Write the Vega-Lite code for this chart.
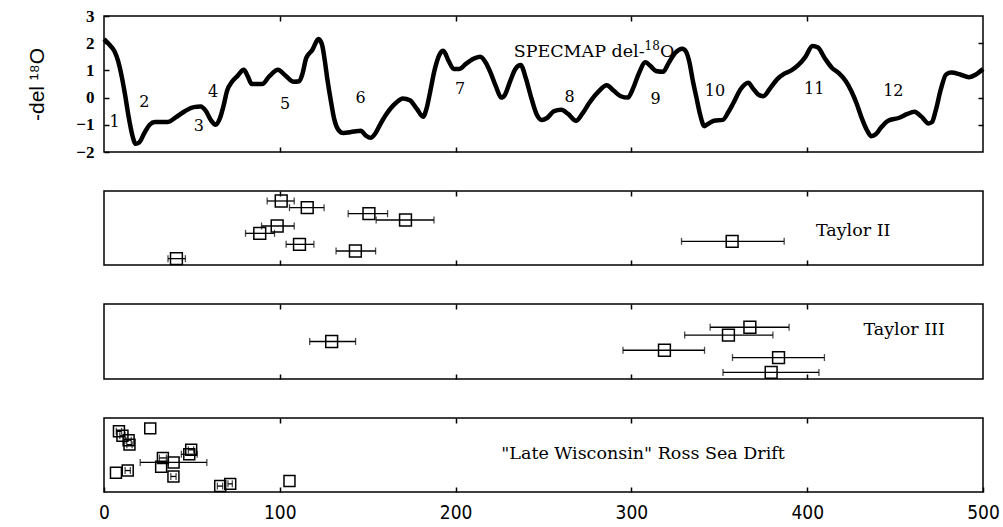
{
  "$schema": "https://vega.github.io/schema/vega-lite/v6.json",
  "background": "white",
  "padding": {"left": 25, "top": 6, "right": 5, "bottom": 5},
  "spacing": 39,
  "bounds": "flush",
  "config": {
    "font": "DejaVu Serif",
    "view": {"stroke": "black", "strokeWidth": 1.5},
    "axis": {
      "domain": false,
      "grid": false,
      "tickColor": "black",
      "tickWidth": 1.5,
      "tickSize": -5,
      "labelColor": "black",
      "titleColor": "black"
    },
    "text": {"color": "black", "font": "DejaVu Serif"}
  },
  "datasets": {
    "specmap": [
      {"age": 0, "d18o": 2.15}, {"age": 3, "d18o": 1.95}, {"age": 6, "d18o": 1.7}, {"age": 8, "d18o": 1.35},
      {"age": 10, "d18o": 0.8}, {"age": 12, "d18o": 0.1}, {"age": 14, "d18o": -0.7}, {"age": 16, "d18o": -1.35},
      {"age": 18, "d18o": -1.7}, {"age": 20, "d18o": -1.65}, {"age": 23, "d18o": -1.3}, {"age": 26, "d18o": -1.0},
      {"age": 29, "d18o": -0.9}, {"age": 36, "d18o": -0.9}, {"age": 41, "d18o": -0.72}, {"age": 46, "d18o": -0.5},
      {"age": 51, "d18o": -0.35}, {"age": 55, "d18o": -0.33}, {"age": 58, "d18o": -0.5}, {"age": 61, "d18o": -0.85},
      {"age": 63.5, "d18o": -1.0}, {"age": 66, "d18o": -0.75}, {"age": 68, "d18o": -0.3}, {"age": 70, "d18o": 0.25},
      {"age": 73, "d18o": 0.6}, {"age": 76, "d18o": 0.8}, {"age": 79.5, "d18o": 1.02}, {"age": 82, "d18o": 0.75},
      {"age": 84, "d18o": 0.5}, {"age": 90, "d18o": 0.5}, {"age": 94, "d18o": 0.78}, {"age": 99, "d18o": 1.02},
      {"age": 103, "d18o": 0.82}, {"age": 108, "d18o": 0.58}, {"age": 111, "d18o": 0.6}, {"age": 113, "d18o": 0.9},
      {"age": 115, "d18o": 1.45}, {"age": 118.5, "d18o": 1.75}, {"age": 122, "d18o": 2.15}, {"age": 124, "d18o": 1.95},
      {"age": 125.5, "d18o": 1.4}, {"age": 127, "d18o": 0.7}, {"age": 129, "d18o": -0.1}, {"age": 131, "d18o": -0.8},
      {"age": 133.5, "d18o": -1.2}, {"age": 136, "d18o": -1.3}, {"age": 142, "d18o": -1.25}, {"age": 146, "d18o": -1.22},
      {"age": 149, "d18o": -1.4}, {"age": 151.5, "d18o": -1.48}, {"age": 154.5, "d18o": -1.3}, {"age": 157, "d18o": -1.0},
      {"age": 160, "d18o": -0.67}, {"age": 163, "d18o": -0.4}, {"age": 166, "d18o": -0.2}, {"age": 170, "d18o": -0.03},
      {"age": 174, "d18o": -0.1}, {"age": 178, "d18o": -0.42}, {"age": 181.5, "d18o": -0.7}, {"age": 183.5, "d18o": -0.4},
      {"age": 185.5, "d18o": 0.2}, {"age": 188, "d18o": 1.0}, {"age": 191, "d18o": 1.6}, {"age": 193, "d18o": 1.72},
      {"age": 196, "d18o": 1.35}, {"age": 199, "d18o": 1.05}, {"age": 202, "d18o": 1.05}, {"age": 206, "d18o": 1.25},
      {"age": 211, "d18o": 1.45}, {"age": 214, "d18o": 1.5}, {"age": 217, "d18o": 1.3}, {"age": 220, "d18o": 0.9},
      {"age": 223, "d18o": 0.4}, {"age": 226, "d18o": 0.0}, {"age": 228, "d18o": 0.1}, {"age": 231, "d18o": 0.6},
      {"age": 234, "d18o": 1.05}, {"age": 237, "d18o": 1.2}, {"age": 240, "d18o": 0.7}, {"age": 243, "d18o": 0.0},
      {"age": 246, "d18o": -0.6}, {"age": 249, "d18o": -0.82}, {"age": 252, "d18o": -0.75}, {"age": 256, "d18o": -0.5},
      {"age": 260, "d18o": -0.45}, {"age": 264, "d18o": -0.6}, {"age": 268.5, "d18o": -0.85}, {"age": 272, "d18o": -0.6},
      {"age": 276, "d18o": -0.2}, {"age": 281, "d18o": 0.2}, {"age": 286, "d18o": 0.45}, {"age": 290, "d18o": 0.25},
      {"age": 294, "d18o": 0.05}, {"age": 298, "d18o": 0.0}, {"age": 301, "d18o": 0.35}, {"age": 304, "d18o": 0.85},
      {"age": 308, "d18o": 1.3}, {"age": 311, "d18o": 1.15}, {"age": 314, "d18o": 0.98}, {"age": 318, "d18o": 0.95},
      {"age": 321, "d18o": 1.25}, {"age": 325, "d18o": 1.65}, {"age": 329, "d18o": 1.8}, {"age": 331, "d18o": 1.7},
      {"age": 333, "d18o": 1.3}, {"age": 335, "d18o": 0.6}, {"age": 337, "d18o": 0.0}, {"age": 339, "d18o": -0.6},
      {"age": 341.5, "d18o": -1.05}, {"age": 344, "d18o": -0.95}, {"age": 347, "d18o": -0.85}, {"age": 352, "d18o": -0.82},
      {"age": 355, "d18o": -0.55}, {"age": 358, "d18o": -0.2}, {"age": 362, "d18o": 0.3}, {"age": 366.5, "d18o": 0.55},
      {"age": 369, "d18o": 0.35}, {"age": 372, "d18o": 0.12}, {"age": 375, "d18o": 0.05}, {"age": 379, "d18o": 0.35},
      {"age": 383, "d18o": 0.68}, {"age": 387, "d18o": 0.88}, {"age": 391, "d18o": 1.0}, {"age": 395, "d18o": 1.2},
      {"age": 399, "d18o": 1.5}, {"age": 403, "d18o": 1.9}, {"age": 406, "d18o": 1.85}, {"age": 410, "d18o": 1.45},
      {"age": 414, "d18o": 1.1}, {"age": 418, "d18o": 0.9}, {"age": 422, "d18o": 0.6}, {"age": 425, "d18o": 0.25},
      {"age": 428, "d18o": -0.2}, {"age": 431, "d18o": -0.75}, {"age": 434, "d18o": -1.2}, {"age": 436.5, "d18o": -1.42},
      {"age": 439, "d18o": -1.35}, {"age": 442, "d18o": -1.1}, {"age": 446, "d18o": -0.85}, {"age": 452, "d18o": -0.75},
      {"age": 457, "d18o": -0.6}, {"age": 461, "d18o": -0.52}, {"age": 465, "d18o": -0.7}, {"age": 469, "d18o": -0.95},
      {"age": 471, "d18o": -0.9}, {"age": 473, "d18o": -0.5}, {"age": 476, "d18o": 0.3}, {"age": 479, "d18o": 0.85},
      {"age": 482, "d18o": 0.92}, {"age": 487, "d18o": 0.85}, {"age": 492, "d18o": 0.75}, {"age": 496, "d18o": 0.85},
      {"age": 500, "d18o": 1.05}
    ],
    "stages": [
      {"age": 6, "d18o": -0.9, "label": "1"},
      {"age": 23, "d18o": -0.18, "label": "2"},
      {"age": 54, "d18o": -1.04, "label": "3"},
      {"age": 62, "d18o": 0.2, "label": "4"},
      {"age": 103, "d18o": -0.24, "label": "5"},
      {"age": 146, "d18o": 0.0, "label": "6"},
      {"age": 202.6, "d18o": 0.31, "label": "7"},
      {"age": 264.8, "d18o": 0.01, "label": "8"},
      {"age": 313.8, "d18o": -0.05, "label": "9"},
      {"age": 347.5, "d18o": 0.26, "label": "10"},
      {"age": 404, "d18o": 0.32, "label": "11"},
      {"age": 449, "d18o": 0.26, "label": "12"}
    ],
    "taylor2": [
      {"age": 100.8, "lo": 92.8, "hi": 108.2, "row": 0.865},
      {"age": 115.6, "lo": 105.5, "hi": 125.2, "row": 0.775},
      {"age": 150.7, "lo": 138.9, "hi": 161.3, "row": 0.694},
      {"age": 171.5, "lo": 154.8, "hi": 187.7, "row": 0.608},
      {"age": 98.5, "lo": 89.6, "hi": 108.2, "row": 0.527},
      {"age": 88.6, "lo": 80.5, "hi": 97.0, "row": 0.428},
      {"age": 111.2, "lo": 103.6, "hi": 119.4, "row": 0.279},
      {"age": 143.0, "lo": 132.0, "hi": 154.5, "row": 0.189},
      {"age": 41.2, "lo": 36.4, "hi": 46.3, "row": 0.086},
      {"age": 357.3, "lo": 328.5, "hi": 386.9, "row": 0.32}
    ],
    "taylor3": [
      {"age": 129.5, "lo": 117.0, "hi": 143.1, "row": 0.5},
      {"age": 367.4, "lo": 344.8, "hi": 389.7, "row": 0.69},
      {"age": 355.2, "lo": 330.3, "hi": 380.5, "row": 0.586},
      {"age": 318.8, "lo": 295.2, "hi": 341.6, "row": 0.383},
      {"age": 383.7, "lo": 357.5, "hi": 409.8, "row": 0.286},
      {"age": 379.5, "lo": 352.1, "hi": 406.7, "row": 0.088}
    ],
    "ross": [
      {"age": 8.5, "lo": 7.0, "hi": 10.0, "row": 0.82},
      {"age": 10.5, "lo": 9.0, "hi": 12.0, "row": 0.76},
      {"age": 14.0, "lo": 12.5, "hi": 15.5, "row": 0.7},
      {"age": 14.5, "lo": 13.0, "hi": 16.0, "row": 0.64},
      {"age": 26.3, "lo": null, "hi": null, "row": 0.86},
      {"age": 6.8, "lo": null, "hi": null, "row": 0.26},
      {"age": 13.5, "lo": 12.0, "hi": 15.0, "row": 0.29},
      {"age": 33.5, "lo": 31.5, "hi": 35.5, "row": 0.46},
      {"age": 32.5, "lo": null, "hi": null, "row": 0.34},
      {"age": 39.6, "lo": 20.6, "hi": 58.5, "row": 0.4},
      {"age": 39.5, "lo": 38.0, "hi": 41.0, "row": 0.21},
      {"age": 49.6, "lo": 48.0, "hi": 51.0, "row": 0.57},
      {"age": 48.5, "lo": 44.0, "hi": 53.0, "row": 0.51},
      {"age": 66.1, "lo": 64.5, "hi": 67.5, "row": 0.08},
      {"age": 71.8, "lo": 70.5, "hi": 73.0, "row": 0.11},
      {"age": 105.5, "lo": null, "hi": null, "row": 0.15}
    ]
  },
  "vconcat": [
    {
      "width": 879,
      "height": 136,
      "layer": [
        {
          "data": {"name": "specmap"},
          "mark": {"type": "line", "interpolate": "monotone", "color": "black", "strokeWidth": 4.5, "strokeJoin": "round"},
          "encoding": {
            "x": {"field": "age", "type": "quantitative", "scale": {"domain": [0, 500], "nice": false},
                  "axis": {"orient": "bottom", "values": [100, 200, 300, 400], "labels": false, "title": null}},
            "y": {"field": "d18o", "type": "quantitative", "scale": {"domain": [-2, 3], "nice": false, "zero": false},
                  "axis": {"orient": "left", "values": [-2, -1, 0, 1, 2, 3], "labelFont": "Liberation Serif", "labelFontSize": 17,
                           "labelFontWeight": "bold", "labelPadding": 15, "title": "-del ¹⁸O", "titleFont": "Liberation Sans",
                           "titleFontSize": 21, "titleFontWeight": "normal", "titleX": -67, "titleBaseline": "middle"}}
          }
        },
        {
          "data": {"name": "stages"},
          "mark": {"type": "text", "fontSize": 16},
          "encoding": {
            "x": {"field": "age", "type": "quantitative",
                  "axis": {"orient": "top", "values": [100, 200, 300, 400], "labels": false, "title": null}},
            "y": {"field": "d18o", "type": "quantitative",
                  "axis": {"orient": "right", "values": [-1, 0, 1, 2], "labels": false, "title": null}},
            "text": {"field": "label"}
          }
        },
        {
          "data": {"values": [{"age": 307.5, "d18o": 1.48, "label": "SPECMAP del-"}]},
          "mark": {"type": "text", "fontSize": 17.5, "align": "right", "baseline": "alphabetic"},
          "encoding": {
            "x": {"field": "age", "type": "quantitative", "axis": null},
            "y": {"field": "d18o", "type": "quantitative", "axis": null},
            "text": {"field": "label"}
          }
        },
        {
          "data": {"values": [{"age": 307.5, "d18o": 1.48, "label": "18"}]},
          "mark": {"type": "text", "fontSize": 12, "align": "left", "baseline": "alphabetic", "dy": -7},
          "encoding": {
            "x": {"field": "age", "type": "quantitative", "axis": null},
            "y": {"field": "d18o", "type": "quantitative", "axis": null},
            "text": {"field": "label"}
          }
        },
        {
          "data": {"values": [{"age": 316.2, "d18o": 1.48, "label": "O"}]},
          "mark": {"type": "text", "fontSize": 17.5, "align": "left", "baseline": "alphabetic"},
          "encoding": {
            "x": {"field": "age", "type": "quantitative", "axis": null},
            "y": {"field": "d18o", "type": "quantitative", "axis": null},
            "text": {"field": "label"}
          }
        }
      ],
      "resolve": {"axis": {"x": "independent", "y": "independent"}}
    },
    {
      "width": 879,
      "height": 74,
      "data": {"name": "taylor2"},
      "layer": [
        {
          "mark": {"type": "rule", "color": "black", "strokeWidth": 1.3},
          "encoding": {
            "x": {"field": "lo", "type": "quantitative", "scale": {"domain": [0, 500], "nice": false},
                  "axis": {"orient": "bottom", "values": [100, 200, 300, 400], "labels": false, "title": null}},
            "x2": {"field": "hi"},
            "y": {"field": "row", "type": "quantitative", "scale": {"domain": [0, 1], "nice": false}, "axis": null}
          }
        },
        {
          "mark": {"type": "tick", "orient": "vertical", "color": "black", "size": 7, "thickness": 1.3},
          "encoding": {
            "x": {"field": "lo", "type": "quantitative",
                  "axis": {"orient": "top", "values": [100, 200, 300, 400], "labels": false, "title": null}},
            "y": {"field": "row", "type": "quantitative", "axis": null}
          }
        },
        {
          "mark": {"type": "tick", "orient": "vertical", "color": "black", "size": 7, "thickness": 1.3},
          "encoding": {
            "x": {"field": "hi", "type": "quantitative", "axis": null},
            "y": {"field": "row", "type": "quantitative", "axis": null}
          }
        },
        {
          "mark": {"type": "point", "shape": "square", "filled": false, "color": "black", "size": 140, "strokeWidth": 1.5, "opacity": 1},
          "encoding": {
            "x": {"field": "age", "type": "quantitative", "axis": null},
            "y": {"field": "row", "type": "quantitative", "axis": null}
          }
        },
        {
          "data": {"values": [{"age": 405, "row": 0.46, "label": "Taylor  II"}]},
          "mark": {"type": "text", "fontSize": 17.5, "align": "left", "baseline": "middle"},
          "encoding": {
            "x": {"field": "age", "type": "quantitative", "axis": null},
            "y": {"field": "row", "type": "quantitative", "axis": null},
            "text": {"field": "label"}
          }
        }
      ],
      "resolve": {"axis": {"x": "independent", "y": "independent"}}
    },
    {
      "width": 879,
      "height": 75,
      "data": {"name": "taylor3"},
      "layer": [
        {
          "mark": {"type": "rule", "color": "black", "strokeWidth": 1.3},
          "encoding": {
            "x": {"field": "lo", "type": "quantitative", "scale": {"domain": [0, 500], "nice": false},
                  "axis": {"orient": "bottom", "values": [100, 200, 300, 400], "labels": false, "title": null}},
            "x2": {"field": "hi"},
            "y": {"field": "row", "type": "quantitative", "scale": {"domain": [0, 1], "nice": false}, "axis": null}
          }
        },
        {
          "mark": {"type": "tick", "orient": "vertical", "color": "black", "size": 7, "thickness": 1.3},
          "encoding": {
            "x": {"field": "lo", "type": "quantitative",
                  "axis": {"orient": "top", "values": [100, 200, 300, 400], "labels": false, "title": null}},
            "y": {"field": "row", "type": "quantitative", "axis": null}
          }
        },
        {
          "mark": {"type": "tick", "orient": "vertical", "color": "black", "size": 7, "thickness": 1.3},
          "encoding": {
            "x": {"field": "hi", "type": "quantitative", "axis": null},
            "y": {"field": "row", "type": "quantitative", "axis": null}
          }
        },
        {
          "mark": {"type": "point", "shape": "square", "filled": false, "color": "black", "size": 140, "strokeWidth": 1.5, "opacity": 1},
          "encoding": {
            "x": {"field": "age", "type": "quantitative", "axis": null},
            "y": {"field": "row", "type": "quantitative", "axis": null}
          }
        },
        {
          "data": {"values": [{"age": 432, "row": 0.66, "label": "Taylor  III"}]},
          "mark": {"type": "text", "fontSize": 17.5, "align": "left", "baseline": "middle"},
          "encoding": {
            "x": {"field": "age", "type": "quantitative", "axis": null},
            "y": {"field": "row", "type": "quantitative", "axis": null},
            "text": {"field": "label"}
          }
        }
      ],
      "resolve": {"axis": {"x": "independent", "y": "independent"}}
    },
    {
      "width": 879,
      "height": 74,
      "data": {"name": "ross"},
      "layer": [
        {
          "transform": [{"filter": "datum.lo != null"}],
          "mark": {"type": "rule", "color": "black", "strokeWidth": 1.3},
          "encoding": {
            "x": {"field": "lo", "type": "quantitative", "scale": {"domain": [0, 500], "nice": false},
                  "axis": {"orient": "bottom", "values": [0, 100, 200, 300, 400, 500], "labelFlush": false,
                           "labelFont": "Liberation Sans Narrow, DejaVu Sans Condensed, sans-serif", "labelFontSize": 19,
                           "labelPadding": 16, "title": null}},
            "x2": {"field": "hi"},
            "y": {"field": "row", "type": "quantitative", "scale": {"domain": [0, 1], "nice": false}, "axis": null}
          }
        },
        {
          "transform": [{"filter": "datum.lo != null"}],
          "mark": {"type": "tick", "orient": "vertical", "color": "black", "size": 7, "thickness": 1.3},
          "encoding": {
            "x": {"field": "lo", "type": "quantitative",
                  "axis": {"orient": "top", "values": [100, 200, 300, 400], "labels": false, "title": null}},
            "y": {"field": "row", "type": "quantitative", "axis": null}
          }
        },
        {
          "transform": [{"filter": "datum.hi != null"}],
          "mark": {"type": "tick", "orient": "vertical", "color": "black", "size": 7, "thickness": 1.3},
          "encoding": {
            "x": {"field": "hi", "type": "quantitative", "axis": null},
            "y": {"field": "row", "type": "quantitative", "axis": null}
          }
        },
        {
          "mark": {"type": "point", "shape": "square", "filled": false, "color": "black", "size": 120, "strokeWidth": 1.5, "opacity": 1},
          "encoding": {
            "x": {"field": "age", "type": "quantitative", "axis": null},
            "y": {"field": "row", "type": "quantitative", "axis": null}
          }
        },
        {
          "data": {"values": [{"age": 226, "row": 0.51, "label": "\"Late Wisconsin\" Ross Sea Drift"}]},
          "mark": {"type": "text", "fontSize": 17.5, "align": "left", "baseline": "middle"},
          "encoding": {
            "x": {"field": "age", "type": "quantitative", "axis": null},
            "y": {"field": "row", "type": "quantitative", "axis": null},
            "text": {"field": "label"}
          }
        }
      ],
      "resolve": {"axis": {"x": "independent", "y": "independent"}}
    }
  ]
}
